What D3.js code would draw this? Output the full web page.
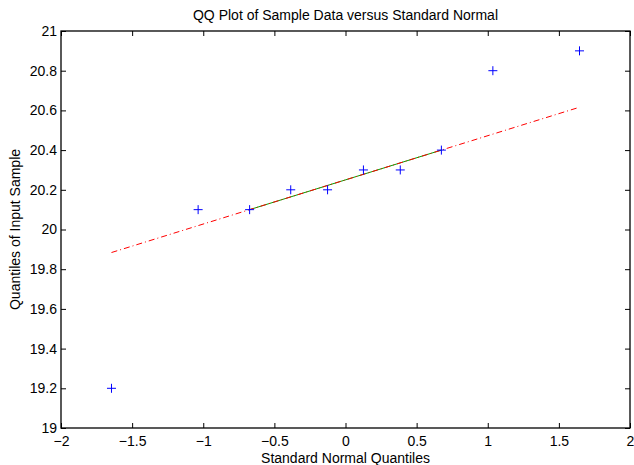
<!DOCTYPE html>
<html>
<head>
<meta charset="utf-8">
<script src="https://cdn.jsdelivr.net/npm/d3@7"></script>
<style>
  body { margin: 0; background: #fff; }
  text { font-family: "Liberation Sans", Arial, sans-serif; font-size: 14px; fill: #000; }
  .frame { fill: none; stroke: #000; stroke-width: 1.3px; }
  .tick line { stroke: #000; }
</style>
</head>
<body>
<div id="chart"></div>
<script>
// theoretical normal quantiles vs sorted sample
var normalQ = [-1.645, -1.036, -0.674, -0.385, -0.126, 0.126, 0.385, 0.674, 1.036, 1.645];
var sample  = [19.2, 20.1, 20.1, 20.2, 20.2, 20.3, 20.3, 20.4, 20.8, 20.9];
// quartile line (green) and its extension (red dash-dot)
var fitX = [-0.674, 0.674], fitY = [20.1, 20.4];
var extX = [-1.645, 1.645], extY = [19.884, 20.616];
var xTicks = [-2, -1.5, -1, -0.5, 0, 0.5, 1, 1.5, 2];
var yTicks = [19, 19.2, 19.4, 19.6, 19.8, 20, 20.2, 20.4, 20.6, 20.8, 21];

var width = 634, height = 465;
var m = {left: 61, top: 31, right: 4, bottom: 37};

var svg = d3.select("#chart").append("svg")
  .attr("width", width).attr("height", height);

var x = d3.scaleLinear().domain([-2, 2]).range([m.left, width - m.right]);
var y = d3.scaleLinear().domain([19, 21]).range([height - m.bottom, m.top]);

var fmt = function(d) { return d3.format("")(d).replace("-", "\u2212"); };

// axes with inward ticks
svg.append("g").attr("transform", "translate(0," + y(19) + ")")
  .call(d3.axisBottom(x).tickValues(xTicks).tickSizeInner(-5).tickSizeOuter(0).tickPadding(8).tickFormat(fmt))
  .call(function(g) { g.select(".domain").remove(); });
svg.append("g").attr("transform", "translate(0," + y(21) + ")")
  .call(d3.axisTop(x).tickValues(xTicks).tickSizeInner(-5).tickSizeOuter(0).tickFormat(""))
  .call(function(g) { g.select(".domain").remove(); });
svg.append("g").attr("transform", "translate(" + x(-2) + ",0)")
  .call(d3.axisLeft(y).tickValues(yTicks).tickSizeInner(-5).tickSizeOuter(0).tickPadding(4).tickFormat(fmt))
  .call(function(g) { g.select(".domain").remove(); });
svg.append("g").attr("transform", "translate(" + x(2) + ",0)")
  .call(d3.axisRight(y).tickValues(yTicks).tickSizeInner(-5).tickSizeOuter(0).tickFormat(""))
  .call(function(g) { g.select(".domain").remove(); });

svg.selectAll(".tick text").style("font-size", "14px").style("font-family", "Liberation Sans, Arial, sans-serif");

svg.append("rect").attr("class", "frame")
  .attr("x", x(-2)).attr("y", y(21))
  .attr("width", x(2) - x(-2)).attr("height", y(19) - y(21));

var line = d3.line().x(function(d) { return x(d[0]); }).y(function(d) { return y(d[1]); });

svg.append("path").datum(d3.zip(fitX, fitY))
  .attr("d", line).attr("fill", "none").attr("stroke", "#00a000").attr("stroke-width", 1);

svg.append("path").datum(d3.zip(extX, extY))
  .attr("d", line).attr("fill", "none").attr("stroke", "#ff0000").attr("stroke-width", 1)
  .attr("stroke-dasharray", "6,3,1,3");

// plus markers
var s = 4.5;
svg.append("g").selectAll("path")
  .data(d3.zip(normalQ, sample))
  .enter().append("path")
  .attr("d", function(d) {
    var cx = x(d[0]), cy = y(d[1]);
    return "M" + (cx - s) + "," + cy + "H" + (cx + s) + "M" + cx + "," + (cy - s) + "V" + (cy + s);
  })
  .attr("stroke", "#0000ff").attr("stroke-width", 1).attr("fill", "none");

svg.append("text").attr("x", (x(-2) + x(2)) / 2).attr("y", 20)
  .attr("text-anchor", "middle").text("QQ Plot of Sample Data versus Standard Normal");
svg.append("text").attr("x", (x(-2) + x(2)) / 2).attr("y", 463)
  .attr("text-anchor", "middle").text("Standard Normal Quantiles");
svg.append("text").attr("transform", "translate(20," + ((y(19) + y(21)) / 2) + ") rotate(-90)")
  .attr("text-anchor", "middle").text("Quantiles of Input Sample");
</script>
</body>
</html>
